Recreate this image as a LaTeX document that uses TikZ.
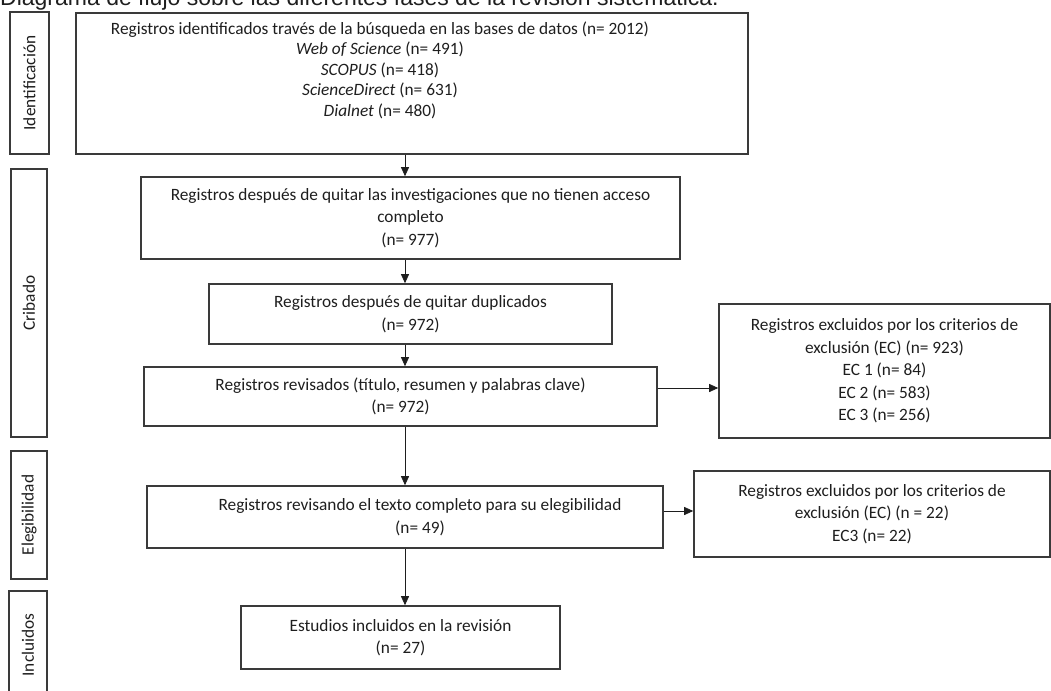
\documentclass[tikz,border=0pt]{standalone}
\usepackage{fontspec}
\setmainfont{Carlito}
\newfontfamily\titlefont{Liberation Sans}
\usetikzlibrary{positioning,arrows.meta}
\definecolor{BoxLine}{HTML}{3A3A3A}
\definecolor{InkGray}{HTML}{1E1E1E}

\begin{document}
\begin{tikzpicture}[
  x=1pt,y=-1pt,
  box/.style={draw=BoxLine,line width=1.6pt,align=center,inner sep=0pt,text=InkGray,
    font=\fontsize{17.3}{22.5}\selectfont},
  phase/.style={box,rotate=90},
  arr/.style={-{Triangle[length=9pt,width=8pt]},line width=0.8pt,draw=InkGray}
]
\useasboundingbox (0,0) rectangle (1051,690);
% caption (cut at the top edge)
\node[anchor=base west,inner sep=0pt,text=InkGray,font=\titlefont\fontsize{23}{26}\selectfont] (title) at (0,5.5)
  {Diagrama de flujo sobre las diferentes fases de la revisión sistemática.};
% phases
\node[phase,minimum width=142pt,minimum height=39pt] (phident) at (29.5,83) {Identificación};
\node[phase,minimum width=268pt,minimum height=36pt] (phcrib) at (29,303) {Cribado};
\node[phase,minimum width=128pt,minimum height=36pt] (pheleg) at (29,515) {Elegibilidad};
\node[phase,minimum width=108pt,minimum height=38pt] (phincl) at (28,645) {Incluidos};
% main column
\node[box,minimum width=672pt,minimum height=141pt,font=\fontsize{17.3}{20.5}\selectfont] (found) at (412,83.5)
  {\hspace*{-64pt}Registros identificados través de la búsqueda en las bases de datos (n= 2012)\\
   \hspace*{-64pt}\textit{Web of Science} (n= 491)\\
   \hspace*{-64pt}\textit{SCOPUS} (n= 418)\\
   \hspace*{-64pt}\textit{ScienceDirect} (n= 631)\\
   \hspace*{-64pt}\textit{Dialnet} (n= 480)\\[8.5pt]\mbox{}};
\node[box,minimum width=539pt,minimum height=82pt] (access) at (410.5,218)
  {Registros después de quitar las investigaciones que no tienen acceso\\completo\\(n= 977)};
\node[box,minimum width=403pt,minimum height=60pt] (dupl) at (410.5,314)
  {Registros después de quitar duplicados\\(n= 972)};
\node[box,minimum width=513pt,minimum height=59pt] (screen) at (400.5,396.5)
  {Registros revisados (título, resumen y palabras clave)\\(n= 972)};
\node[box,minimum width=331pt,minimum height=134pt] (exclone) at (884.5,371)
  {Registros excluidos por los criterios de\\exclusión (EC) (n= 923)\\EC 1 (n= 84)\\EC 2 (n= 583)\\EC 3 (n= 256)};
\node[box,minimum width=516pt,minimum height=62pt] (fulltext) at (405,517)
  {\hspace*{30pt}Registros revisando el texto completo para su elegibilidad\\\hspace*{30pt}(n= 49)};
\node[box,minimum width=356pt,minimum height=86pt] (excltwo) at (872,514)
  {Registros excluidos por los criterios de\\exclusión (EC) (n = 22)\\EC3 (n= 22)};
\node[box,minimum width=319pt,minimum height=63pt] (included) at (400.5,637.5)
  {Estudios incluidos en la revisión\\(n= 27)};
% arrows
\coordinate (col) at (405,0);
\coordinate (scrout) at ([yshift=8.5pt]screen.east);
\coordinate (fullout) at ([yshift=6pt]fulltext.east);
\draw[arr] (found.south -| col) -- (access.north -| col);
\draw[arr] (access.south -| col) -- (dupl.north -| col);
\draw[arr] (dupl.south -| col) -- (screen.north -| col);
\draw[arr] (screen.south -| col) -- (fulltext.north -| col);
\draw[arr] (fulltext.south -| col) -- (included.north -| col);
\draw[arr] (scrout) -- (scrout -| exclone.west);
\draw[arr] (fullout) -- (fullout -| excltwo.west);
\end{tikzpicture}
\end{document}
